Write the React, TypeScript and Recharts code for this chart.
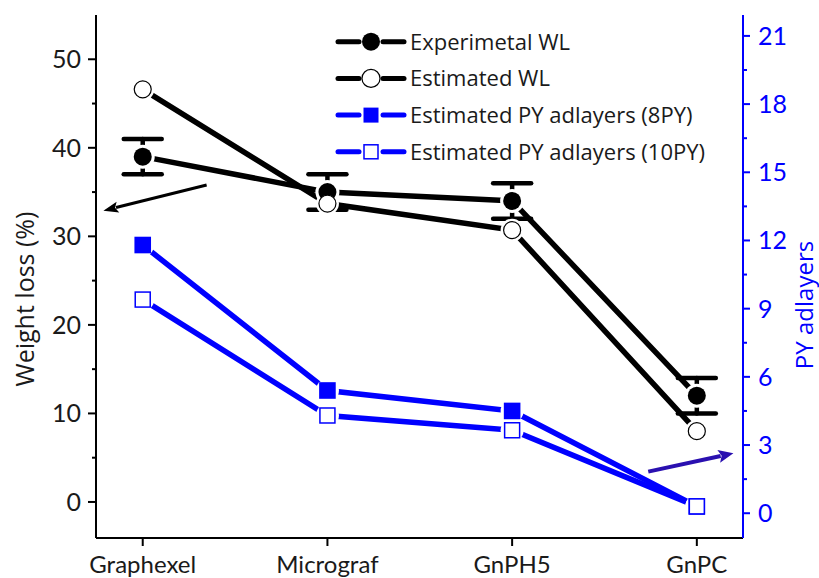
import React from 'react';
import { LineChart, Line, XAxis, YAxis, ErrorBar, Legend, ReferenceLine, Label } from 'recharts';

const categories = ['Graphexel', 'Micrograf', 'GnPH5', 'GnPC'];
const experimentalWL = [39, 35, 34, 12];
const experimentalErr = [2, 2, 2, 2];
const estimatedWL = [46.6, 33.7, 30.7, 8];
const py8 = [11.8, 5.4, 4.5, 0.3];
const py10 = [9.4, 4.3, 3.65, 0.3];
const leftTicks = [0, 5, 10, 15, 20, 25, 30, 35, 40, 45, 50];
const rightTicks = [0, 1.5, 3, 4.5, 6, 7.5, 9, 10.5, 12, 13.5, 15, 16.5, 18, 19.5, 21];
const xTicks = [0, 1, 2, 3];
const seriesNames = [
  'Experimetal WL',
  'Estimated WL',
  'Estimated PY adlayers (8PY)',
  'Estimated PY adlayers (10PY)',
];
const leftArrow = [{ x: 0.346, y: 35.8 }, { x: -0.213, y: 32.9 }];
const rightArrow = [{ x: 2.737, y: 1.83 }, { x: 3.198, y: 2.64 }];

const BLUE = '#0000ff';
const FONT = 'Lato, "Open Sans", sans-serif';
const FONT2 = '"Open Sans", Lato, sans-serif';

const data = categories.map((c, i) => ({
  x: i,
  name: c,
  exp: experimentalWL[i],
  expErr: experimentalErr[i],
  est: estimatedWL[i],
  py8: py8[i],
  py10: py10[i],
}));

const LeftTick = (props: any) => {
  const { x, y, payload } = props;
  const v = payload.value;
  const major = v % 10 === 0;
  return (
    <g>
      <line x1={x - (major ? 8 : 4)} x2={x} y1={y} y2={y} stroke="#000" strokeWidth={2} />
      {major && (
        <text x={x - 15} y={y} dy="0.36em" textAnchor="end" fontSize={25} fontFamily={FONT} fill="#1a1a1a">
          {v}
        </text>
      )}
    </g>
  );
};

const RightTick = (props: any) => {
  const { x, y, payload } = props;
  const v = payload.value;
  const major = Math.abs(v % 3) < 1e-9;
  return (
    <g>
      <line x1={x} x2={x + (major ? 7 : 4)} y1={y} y2={y} stroke={BLUE} strokeWidth={2} />
      {major && (
        <text x={x + 15} y={y} dy="0.36em" textAnchor="start" fontSize={25} fontFamily={FONT} fill={BLUE}>
          {v}
        </text>
      )}
    </g>
  );
};

const BottomTick = (props: any) => {
  const { x, y, payload } = props;
  const name = categories[payload.value] ?? '';
  return (
    <g>
      <line x1={x} x2={x} y1={y} y2={y + 8} stroke="#000" strokeWidth={2} />
      <text x={x} y={y + 35} textAnchor="middle" fontSize={24} fontFamily={FONT} fill="#1a1a1a">
        {name}
      </text>
    </g>
  );
};

const haloDot = (r: number) => (props: any) => {
  const { cx, cy, index } = props;
  if (cx == null || cy == null) return <g key={`h${index}`} />;
  return <circle key={`h${index}`} cx={cx} cy={cy} r={r} fill="#fff" stroke="none" />;
};

const markerDot = (kind: string) => (props: any) => {
  const { cx, cy, index } = props;
  if (cx == null || cy == null) return <g key={`m${index}`} />;
  if (kind === 'fc') return <circle key={`m${index}`} cx={cx} cy={cy} r={9} fill="#000" />;
  if (kind === 'oc')
    return <circle key={`m${index}`} cx={cx} cy={cy} r={8.5} fill="#fff" stroke="#000" strokeWidth={1.2} />;
  if (kind === 'fs') return <rect key={`m${index}`} x={cx - 8.3} y={cy - 8.3} width={16.6} height={16.6} fill={BLUE} />;
  return (
    <rect key={`m${index}`} x={cx - 7.5} y={cy - 7.5} width={15} height={15} fill="#fff" stroke={BLUE} strokeWidth={1.5} />
  );
};

const arrowShape = (color: string, w: number, headLen: number, headW: number) => (props: any) => {
  const { x1, y1, x2, y2 } = props;
  const dx = x2 - x1;
  const dy = y2 - y1;
  const len = Math.sqrt(dx * dx + dy * dy) || 1;
  const ux = dx / len;
  const uy = dy / len;
  const bx = x2 - ux * headLen;
  const by = y2 - uy * headLen;
  const nx = -uy;
  const ny = ux;
  const pts = `${x2},${y2} ${bx + (nx * headW) / 2},${by + (ny * headW) / 2} ${bx + ux * 3},${by + uy * 3} ${bx - (nx * headW) / 2},${by - (ny * headW) / 2}`;
  return (
    <g>
      <line x1={x1} y1={y1} x2={bx + ux * 2} y2={by + uy * 2} stroke={color} strokeWidth={w} />
      <polygon points={pts} fill={color} />
    </g>
  );
};

const legendItems = [
  { name: seriesNames[0], color: '#000', kind: 'fc' },
  { name: seriesNames[1], color: '#000', kind: 'oc' },
  { name: seriesNames[2], color: BLUE, kind: 'fs' },
  { name: seriesNames[3], color: BLUE, kind: 'os' },
];

const renderLegend = () => (
  <svg width={420} height={150} style={{ overflow: 'visible' }}>
    {legendItems.map((it, i) => {
      const cy = 21.7 + i * 36.7;
      const cx = 41;
      let marker;
      if (it.kind === 'fc') marker = <circle cx={cx} cy={cy} r={9} fill="#000" />;
      else if (it.kind === 'oc') marker = <circle cx={cx} cy={cy} r={9} fill="#fff" stroke="#000" strokeWidth={1.2} />;
      else if (it.kind === 'fs') marker = <rect x={cx - 7.5} y={cy - 7.5} width={15} height={15} fill={BLUE} />;
      else marker = <rect x={cx - 7} y={cy - 7} width={14} height={14} fill="#fff" stroke={BLUE} strokeWidth={1.5} />;
      return (
        <g key={it.name}>
          <line x1={8} x2={29} y1={cy} y2={cy} stroke={it.color} strokeWidth={5} strokeLinecap="round" />
          <line x1={53} x2={74} y1={cy} y2={cy} stroke={it.color} strokeWidth={5} strokeLinecap="round" />
          {marker}
          <text x={80} y={cy} dy="0.36em" fontSize={22} fontFamily={FONT2} fill="#1a1a1a">
            {it.name}
          </text>
        </g>
      );
    })}
  </svg>
);

const LeftLabel = (props: any) => {
  const vb = props.viewBox || {};
  const cx = vb.x - 11;
  const cy = vb.y + vb.height / 2 + 22.5;
  return (
    <text x={cx} y={cy} transform={`rotate(-90 ${cx} ${cy})`} textAnchor="middle" dy="0.36em" fontSize={25} fontFamily={FONT2} fill="#1a1a1a">
      Weight loss (%)
    </text>
  );
};

const RightLabel = (props: any) => {
  const vb = props.viewBox || {};
  const cx = vb.x + 61;
  const cy = vb.y + vb.height / 2 + 28.5;
  return (
    <text x={cx} y={cy} transform={`rotate(-90 ${cx} ${cy})`} textAnchor="middle" dy="0.36em" fontSize={24} fontFamily={FONT2} fill={BLUE}>
      PY adlayers
    </text>
  );
};

export default function App() {
  return (
    <div style={{ position: 'fixed', left: 0, top: 0, width: 819, height: 578, background: '#fff' }}>
      <LineChart width={819} height={578} data={data} margin={{ top: 15, right: 16, bottom: 10, left: 36 }}>
        <XAxis
          type="number"
          dataKey="x"
          domain={[-0.253, 3.25]}
          ticks={xTicks}
          interval={0}
          height={30}
          tickSize={0}
          tickMargin={0}
          tickLine={false}
          tick={<BottomTick />}
          axisLine={{ stroke: '#000', strokeWidth: 2 }}
        />
        <XAxis
          xAxisId="top"
          orientation="top"
          type="number"
          dataKey="x"
          domain={[-0.253, 3.25]}
          height={0}
          tick={false}
          tickLine={false}
          axisLine={{ stroke: '#000', strokeWidth: 2 }}
        />
        <YAxis
          yAxisId="left"
          type="number"
          domain={[-4.07, 55]}
          ticks={leftTicks}
          interval={0}
          width={60}
          tickSize={0}
          tickMargin={0}
          tickLine={false}
          tick={<LeftTick />}
          axisLine={{ stroke: '#000', strokeWidth: 2 }}
        >
          <Label content={<LeftLabel />} />
        </YAxis>
        <YAxis
          yAxisId="right"
          orientation="right"
          type="number"
          domain={[-1.09, 21.92]}
          ticks={rightTicks}
          interval={0}
          width={60}
          tickSize={0}
          tickMargin={0}
          tickLine={false}
          tick={<RightTick />}
          axisLine={{ stroke: BLUE, strokeWidth: 2 }}
        >
          <Label content={<RightLabel />} />
        </YAxis>

        {/* lines with gaps (white halos) */}
        <Line yAxisId="left" dataKey="exp" stroke="#000" strokeWidth={5.5} strokeLinecap="round" dot={haloDot(12)} activeDot={false} isAnimationActive={false} legendType="none" />
        <Line yAxisId="left" dataKey="est" stroke="#000" strokeWidth={5.5} strokeLinecap="round" dot={haloDot(11.5)} activeDot={false} isAnimationActive={false} legendType="none" />
        <Line yAxisId="right" dataKey="py8" stroke={BLUE} strokeWidth={5.5} strokeLinecap="round" dot={haloDot(11.5)} activeDot={false} isAnimationActive={false} legendType="none" />
        <Line yAxisId="right" dataKey="py10" stroke={BLUE} strokeWidth={5.5} strokeLinecap="round" dot={haloDot(11.5)} activeDot={false} isAnimationActive={false} legendType="none" />

        {/* markers */}
        <Line yAxisId="left" dataKey="exp" name={seriesNames[0]} stroke="none" strokeWidth={0} dot={markerDot('fc')} activeDot={false} isAnimationActive={false}>
          <ErrorBar dataKey="expErr" direction="y" width={19} strokeWidth={4.5} stroke="#000" strokeLinecap="round" />
        </Line>
        <Line yAxisId="left" dataKey="est" name={seriesNames[1]} stroke="none" strokeWidth={0} dot={markerDot('oc')} activeDot={false} isAnimationActive={false} />
        <Line yAxisId="right" dataKey="py8" name={seriesNames[2]} stroke="none" strokeWidth={0} dot={markerDot('fs')} activeDot={false} isAnimationActive={false} />
        <Line yAxisId="right" dataKey="py10" name={seriesNames[3]} stroke="none" strokeWidth={0} dot={markerDot('os')} activeDot={false} isAnimationActive={false} />

        <ReferenceLine yAxisId="left" segment={leftArrow} ifOverflow="visible" shape={arrowShape('#000', 3, 15, 11)} />
        <ReferenceLine yAxisId="right" segment={rightArrow} ifOverflow="visible" shape={arrowShape('#2a10b0', 4, 15, 13)} />

        <Legend
          layout="vertical"
          align="center"
          verticalAlign="middle"
          content={renderLegend}
          wrapperStyle={{ position: 'absolute', left: 330, top: 20, width: 420, height: 150 }}
        />
      </LineChart>
    </div>
  );
}
